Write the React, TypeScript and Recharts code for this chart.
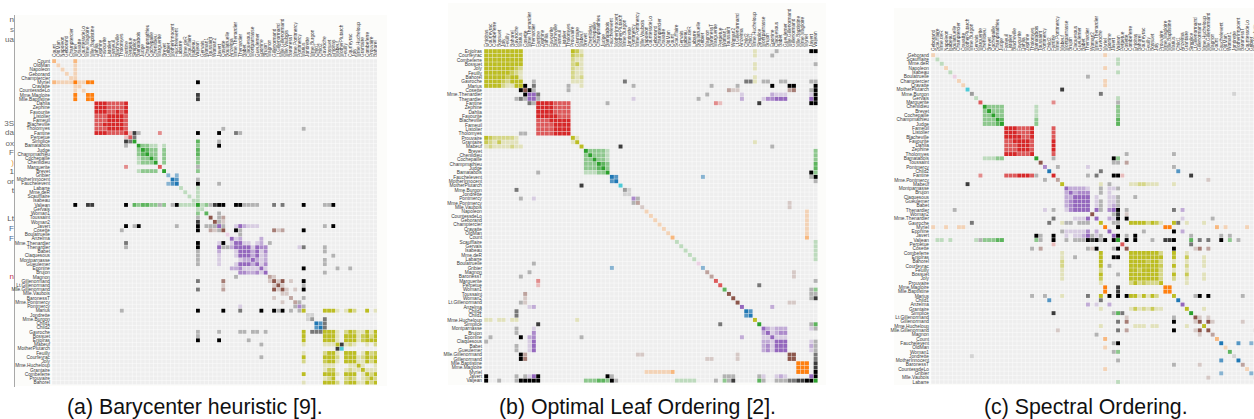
import { ScatterChart, Scatter, XAxis, YAxis, CartesianGrid } from "recharts";

// Les Miserables character co-occurrence matrix, three orderings of the same graph

const characters = [
  "Myriel", "Napoleon", "Mlle.Baptistine", "Mme.Magloire", "CountessdeLo", "Geborand", "Champtercier", "Cravatte",
  "Count", "OldMan", "Labarre", "Valjean", "Marguerite", "Mme.deR", "Isabeau", "Gervais", "Tholomyes", "Listolier",
  "Fameuil", "Blacheville", "Favourite", "Dahlia", "Zephine", "Fantine", "Mme.Thenardier", "Thenardier", "Cosette",
  "Javert", "Fauchelevent", "Bamatabois", "Perpetue", "Simplice", "Scaufflaire", "Woman1", "Judge", "Champmathieu",
  "Brevet", "Chenildieu", "Cochepaille", "Pontmercy", "Boulatruelle", "Eponine", "Anzelma", "Woman2", "MotherInnocent",
  "Gribier", "Jondrette", "Mme.Burgon", "Gavroche", "Gillenormand", "Magnon", "Mlle.Gillenormand", "Mme.Pontmercy",
  "Mlle.Vaubois", "Lt.Gillenormand", "Marius", "BaronessT", "Mabeuf", "Enjolras", "Combeferre", "Prouvaire", "Feuilly",
  "Courfeyrac", "Bahorel", "Bossuet", "Joly", "Grantaire", "MotherPlutarch", "Gueulemer", "Babet", "Claquesous",
  "Montparnasse", "Toussaint", "Child1", "Child2", "Brujon", "Mme.Hucheloup",
];

const groups = [
  1, 1, 1, 1, 1, 1, 1, 1, 1, 1, 2, 2, 3, 2, 2, 2, 3, 3, 3, 3, 3, 3, 3, 3, 4, 4, 5, 4, 0, 2, 3, 2, 2, 2, 2, 2, 2, 2, 2,
  4, 6, 4, 4, 5, 0, 0, 7, 7, 8, 5, 5, 5, 5, 5, 5, 8, 5, 8, 8, 8, 8, 8, 8, 8, 8, 8, 8, 9, 4, 4, 4, 4, 5, 10, 10, 4, 8,
];

const links: [number, number, number][] = [
  [1, 0, 1], [2, 0, 8], [3, 0, 10], [3, 2, 6], [4, 0, 1], [5, 0, 1], [6, 0, 1], [7, 0, 1], [8, 0, 2], [9, 0, 1],
  [11, 10, 1], [11, 3, 3], [11, 2, 3], [11, 0, 5], [12, 11, 1], [13, 11, 1], [14, 11, 1], [15, 11, 1],
  [17, 16, 4], [18, 16, 4], [18, 17, 4], [19, 16, 4], [19, 17, 4], [19, 18, 4], [20, 16, 3], [20, 17, 3], [20, 18, 3],
  [20, 19, 4], [21, 16, 3], [21, 17, 3], [21, 18, 3], [21, 19, 3], [21, 20, 5], [22, 16, 3], [22, 17, 3], [22, 18, 3],
  [22, 19, 3], [22, 20, 4], [22, 21, 4], [23, 16, 3], [23, 17, 3], [23, 18, 3], [23, 19, 3], [23, 20, 4], [23, 21, 4],
  [23, 22, 4], [23, 12, 2], [23, 11, 9], [24, 23, 2], [24, 11, 7], [25, 24, 13], [25, 23, 1], [25, 11, 12], [26, 24, 4],
  [26, 11, 31], [26, 16, 1], [26, 25, 1], [27, 11, 17], [27, 23, 5], [27, 25, 5], [27, 24, 1], [27, 26, 1], [28, 11, 8],
  [28, 27, 1], [29, 23, 1], [29, 27, 5], [29, 11, 2], [30, 23, 1], [31, 30, 2], [31, 11, 3], [31, 23, 3], [31, 27, 1],
  [32, 11, 1], [33, 11, 2], [33, 27, 1], [34, 11, 3], [34, 29, 2], [35, 11, 3], [35, 34, 3], [35, 29, 2], [36, 34, 2],
  [36, 35, 2], [36, 11, 2], [36, 29, 1], [37, 34, 2], [37, 35, 2], [37, 36, 2], [37, 11, 2], [37, 29, 1], [38, 34, 2],
  [38, 35, 2], [38, 36, 2], [38, 37, 2], [38, 11, 2], [38, 29, 1], [39, 25, 1], [40, 25, 1], [41, 24, 2], [41, 25, 3],
  [42, 41, 2], [42, 25, 2], [42, 24, 1], [43, 11, 3], [43, 26, 1], [43, 27, 1], [44, 28, 3], [44, 11, 1], [45, 28, 2],
  [47, 46, 1], [48, 47, 2], [48, 25, 1], [48, 27, 1], [48, 11, 1], [49, 26, 3], [49, 11, 2], [50, 49, 1], [50, 24, 1],
  [51, 49, 9], [51, 26, 2], [51, 11, 2], [52, 51, 1], [52, 39, 1], [53, 51, 1], [54, 51, 1], [54, 49, 1], [54, 26, 1],
  [55, 51, 6], [55, 49, 12], [55, 39, 1], [55, 54, 1], [55, 26, 21], [55, 11, 19], [55, 16, 1], [55, 25, 2], [55, 41, 5],
  [55, 48, 4], [56, 49, 1], [56, 55, 1], [57, 55, 1], [57, 41, 1], [57, 48, 1], [58, 55, 7], [58, 48, 7], [58, 27, 6],
  [58, 57, 1], [58, 11, 4], [59, 58, 15], [59, 55, 5], [59, 48, 6], [59, 57, 1], [60, 48, 1], [60, 58, 4], [60, 59, 2],
  [61, 48, 2], [61, 58, 6], [61, 60, 2], [61, 59, 5], [61, 57, 1], [61, 55, 1], [62, 55, 9], [62, 58, 17], [62, 59, 13],
  [62, 48, 7], [62, 57, 2], [62, 41, 1], [62, 61, 6], [62, 60, 3], [63, 59, 5], [63, 48, 5], [63, 62, 6], [63, 57, 2],
  [63, 58, 4], [63, 61, 3], [63, 60, 2], [63, 55, 1], [64, 55, 5], [64, 62, 12], [64, 48, 5], [64, 63, 4], [64, 58, 10],
  [64, 61, 6], [64, 60, 2], [64, 59, 9], [64, 57, 1], [64, 11, 1], [65, 63, 5], [65, 64, 7], [65, 48, 3], [65, 62, 5],
  [65, 58, 5], [65, 61, 5], [65, 60, 2], [65, 59, 5], [65, 57, 1], [65, 55, 2], [66, 64, 3], [66, 58, 3], [66, 59, 1],
  [66, 62, 2], [66, 65, 1], [66, 48, 1], [66, 63, 1], [66, 61, 1], [66, 60, 1], [67, 57, 3], [68, 25, 5], [68, 11, 1],
  [68, 24, 1], [68, 27, 1], [68, 48, 1], [68, 41, 1], [69, 25, 6], [69, 68, 6], [69, 11, 1], [69, 24, 1], [69, 27, 2],
  [69, 48, 1], [69, 41, 1], [70, 25, 4], [70, 69, 4], [70, 68, 4], [70, 11, 1], [70, 24, 1], [70, 27, 1], [70, 41, 1],
  [70, 58, 1], [71, 27, 1], [71, 69, 2], [71, 68, 2], [71, 70, 2], [71, 11, 1], [71, 48, 1], [71, 41, 1], [71, 25, 1],
  [72, 26, 2], [72, 27, 1], [72, 11, 1], [73, 48, 2], [74, 48, 2], [74, 73, 3], [75, 69, 3], [75, 68, 3], [75, 25, 3],
  [75, 48, 1], [75, 41, 1], [75, 70, 2], [75, 71, 2], [76, 64, 1], [76, 65, 1], [76, 66, 1], [76, 63, 1], [76, 62, 1],
  [76, 48, 1], [76, 58, 1],
];

const orderA = [
  "Count", "OldMan", "Napoleon", "Geborand", "Champtercier", "Myriel", "Cravatte", "CountessdeLo", "Mme.Magloire",
  "Mlle.Baptistine", "Dahlia", "Zephine", "Favourite", "Listolier", "Fameuil", "Blacheville", "Tholomyes", "Fantine",
  "Perpetue", "Simplice", "Bamatabois", "Judge", "Champmathieu", "Cochepaille", "Chenildieu", "Marguerite", "Brevet",
  "Gribier", "MotherInnocent", "Fauchelevent", "Labarre", "Mme.deR", "Scaufflaire", "Isabeau", "Valjean", "Gervais",
  "Woman1", "Toussaint", "Woman2", "Javert", "Cosette", "Boulatruelle", "Anzelma", "Mme.Thenardier", "Thenardier",
  "Babet", "Claquesous", "Montparnasse", "Gueulemer", "Eponine", "Brujon", "Magnon", "Gillenormand", "Lt.Gillenormand",
  "Mlle.Gillenormand", "Mlle.Vaubois", "BaronessT", "Mme.Pontmercy", "Pontmercy", "Marius", "Jondrette", "Mme.Burgon",
  "Child1", "Child2", "Gavroche", "Bossuet", "Enjolras", "Mabeuf", "MotherPlutarch", "Feuilly", "Courfeyrac", "Joly",
  "Mme.Hucheloup", "Grantaire", "Combeferre", "Prouvaire", "Bahorel",
];

const orderB = [
  "Enjolras", "Courfeyrac", "Combeferre", "Bossuet", "Joly", "Feuilly", "Bahorel", "Gavroche", "Marius", "Cosette",
  "Mme.Thenardier", "Thenardier", "Fantine", "Zephine", "Dahlia", "Favourite", "Blacheville", "Fameuil", "Listolier",
  "Tholomyes", "Prouvaire", "Grantaire", "Mabeuf", "Brevet", "Chenildieu", "Cochepaille", "Champmathieu", "Judge",
  "Bamatabois", "Fauchelevent", "MotherInnocent", "MotherPlutarch", "Mme.Burgon", "Jondrette", "Pontmercy",
  "Mme.Pontmercy", "Mlle.Vaubois", "Napoleon", "CountessdeLo", "Geborand", "Champtercier", "Cravatte", "OldMan", "Count",
  "Scaufflaire", "Gervais", "Isabeau", "Mme.deR", "Labarre", "Boulatruelle", "Gribier", "Magnon", "BaronessT",
  "Marguerite", "Perpetue", "Woman1", "Toussaint", "Woman2", "Lt.Gillenormand", "Anzelma", "Child2", "Child1",
  "Mme.Hucheloup", "Simplice", "Montparnasse", "Brujon", "Eponine", "Claquesous", "Babet", "Gueulemer",
  "Mlle.Gillenormand", "Gillenormand", "Mlle.Baptistine", "Mme.Magloire", "Myriel", "Javert", "Valjean",
];

const orderC = [
  "Geborand", "Scaufflaire", "Mme.deR", "Napoleon", "Isabeau", "Boulatruelle", "Champtercier", "Cravatte",
  "MotherPlutarch", "Mme.Burgon", "Gervais", "Marguerite", "Chenildieu", "Brevet", "Cochepaille", "Champmathieu", "Judge",
  "Fameuil", "Listolier", "Blacheville", "Favourite", "Dahlia", "Zephine", "Tholomyes", "Bamatabois", "Toussaint",
  "Pontmercy", "Child2", "Fantine", "Mme.Pontmercy", "Mabeuf", "Montparnasse", "Brujon", "Claquesous", "Gueulemer",
  "Babet", "Thenardier", "Woman2", "Mme.Thenardier", "Gavroche", "Myriel", "Eponine", "Javert", "Valjean", "Perpetue",
  "Cosette", "Combeferre", "Enjolras", "Bahorel", "Courfeyrac", "Feuilly", "Bossuet", "Joly", "Prouvaire", "Mme.Magloire",
  "Mlle.Baptistine", "Marius", "Child1", "Anzelma", "Grantaire", "Simplice", "Lt.Gillenormand", "Gillenormand",
  "Mme.Hucheloup", "Mlle.Gillenormand", "Magnon", "Count", "Fauchelevent", "OldMan", "Woman1", "Jondrette",
  "MotherInnocent", "BaronessT", "CountessdeLo", "Gribier", "Mlle.Vaubois", "Labarre",
];

const palette = ["#1f77b4", "#ff7f0e", "#2ca02c", "#d62728", "#9467bd", "#8c564b", "#e377c2", "#7f7f7f", "#bcbd22", "#17becf"];

// bits of the neighbouring page that show in the left margin of the crop
const marginScraps: [string, number, string][] = [
  ["n", 20, "#555"], ["s", 30, "#777"], ["ua", 40, "#666"], ["3S", 124, "#666"], ["da", 133, "#666"], ["ox", 144, "#666"],
  ["F", 153, "#666"], [")", 163, "#e89a3c"], ["1", 172, "#555"], ["or", 182, "#666"], ["t", 191, "#555"],
  ["Lt", 219, "#555"], ["F", 229, "#47699a"], ["F", 239, "#47699a"], ["n", 277, "#c0304a"],
];

function buildCells(order: string[]) {
  const pos = new Map(order.map((name, i) => [name, i]));
  const degree = characters.map(() => 0);
  const cells: { x: number; y: number; color: string; alpha: number }[] = [];
  const push = (a: number, b: number, v: number) => {
    cells.push({
      x: pos.get(characters[a])!,
      y: pos.get(characters[b])!,
      color: groups[a] === groups[b] ? palette[groups[a] % 10] : "#000",
      alpha: Math.min(v / 4, 1),
    });
  };
  links.forEach(([s, t, v]) => {
    degree[s] += v;
    degree[t] += v;
    push(s, t, v);
    push(t, s, v);
  });
  characters.forEach((_, i) => push(i, i, degree[i]));
  return cells;
}

const TopTick = ({ x, y, payload, labels, fontSize }: any) => (
  <text
    x={x}
    y={y}
    transform={`rotate(-90 ${x} ${y})`}
    dominantBaseline="central"
    fontSize={fontSize}
    fill="#3a3a3a"
    fontFamily="Liberation Sans"
  >
    {labels[payload.value]}
  </text>
);

type MatrixProps = { order: string[]; plotX: number; plotY: number; step: number; fontSize: number };

function Matrix({ order, plotX, plotY, step, fontSize }: MatrixProps) {
  const axisW = 50;
  const axisH = 50;
  const size = step * 77;
  const idx = order.map((_, i) => i);
  const lines = [...idx, 77].map((i) => i * step);
  return (
    <div style={{ position: "absolute", left: plotX - axisW, top: plotY - axisH }}>
      <ScatterChart
        width={axisW + size}
        height={axisH + size}
        margin={{ top: 0, right: 0, bottom: 0, left: 0 }}
      >
        <CartesianGrid
          fill="#eeeeee"
          stroke="#fff"
          strokeWidth={0.45}
          verticalPoints={lines.map((v) => axisW + v)}
          horizontalPoints={lines.map((v) => axisH + v)}
        />
        <XAxis
          type="number"
          dataKey="x"
          orientation="top"
          domain={[-0.5, 76.5]}
          ticks={idx}
          interval={0}
          height={axisH}
          axisLine={false}
          tickLine={false}
          tickSize={0}
          tickMargin={2}
          tick={<TopTick labels={order} fontSize={fontSize} />}
        />
        <YAxis
          type="number"
          dataKey="y"
          reversed
          domain={[-0.5, 76.5]}
          ticks={idx}
          interval={0}
          width={axisW}
          axisLine={false}
          tickLine={false}
          tickSize={0}
          tickMargin={2}
          tickFormatter={(i: number) => order[i]}
          tick={{ fontSize, fill: "#3a3a3a", fontFamily: "Liberation Sans" }}
        />
        <Scatter
          data={buildCells(order)}
          isAnimationActive={false}
          shape={(p: any) => (
            <rect
              x={p.cx - (step - 0.4) / 2}
              y={p.cy - (step - 0.4) / 2}
              width={step - 0.4}
              height={step - 0.4}
              fill={p.payload.color}
              fillOpacity={p.payload.alpha}
            />
          )}
        />
      </ScatterChart>
    </div>
  );
}

const captionStyle = {
  position: "absolute" as const,
  top: 395,
  fontFamily: "Liberation Sans",
  fontSize: 21.3,
  lineHeight: "24px",
  color: "#111",
  whiteSpace: "nowrap" as const,
};

const panelStyle = (left: number, top: number, width: number, height: number) => ({
  position: "absolute" as const,
  left,
  top,
  width,
  height,
  background: "#fcfcfa",
});

export default function App() {
  return (
    <div style={{ position: "fixed", left: 0, top: 0, width: 1254, height: 419, overflow: "hidden", background: "#fff" }}>
      <div style={panelStyle(15, 15, 372, 371)} />
      <div style={panelStyle(448, 3, 378, 382)} />
      <div style={panelStyle(894, 8, 360, 377)} />
      <div style={{ position: "absolute", left: 14, top: 15, width: 1, height: 372, background: "#a8a8a8" }} />
      {marginScraps.map(([t, y, c], i) => (
        <div
          key={i}
          style={{
            position: "absolute",
            right: 1254 - 14,
            top: y - 4,
            fontFamily: "Liberation Sans",
            fontSize: 8,
            lineHeight: "8px",
            color: c,
          }}
        >
          {t}
        </div>
      ))}
      <Matrix order={orderA} plotX={51.6} plotY={58.9} step={4.23} fontSize={4.8} />
      <Matrix order={orderB} plotX={484.3} plotY={49} step={4.335} fontSize={4.8} />
      <Matrix order={orderC} plotX={931.2} plotY={53.2} step={4.3} fontSize={4.8} />
      <div style={{ ...captionStyle, left: 67 }}>(a) Barycenter heuristic [9].</div>
      <div style={{ ...captionStyle, left: 499 }}>(b) Optimal Leaf Ordering [2].</div>
      <div style={{ ...captionStyle, left: 984 }}>(c) Spectral Ordering.</div>
    </div>
  );
}
